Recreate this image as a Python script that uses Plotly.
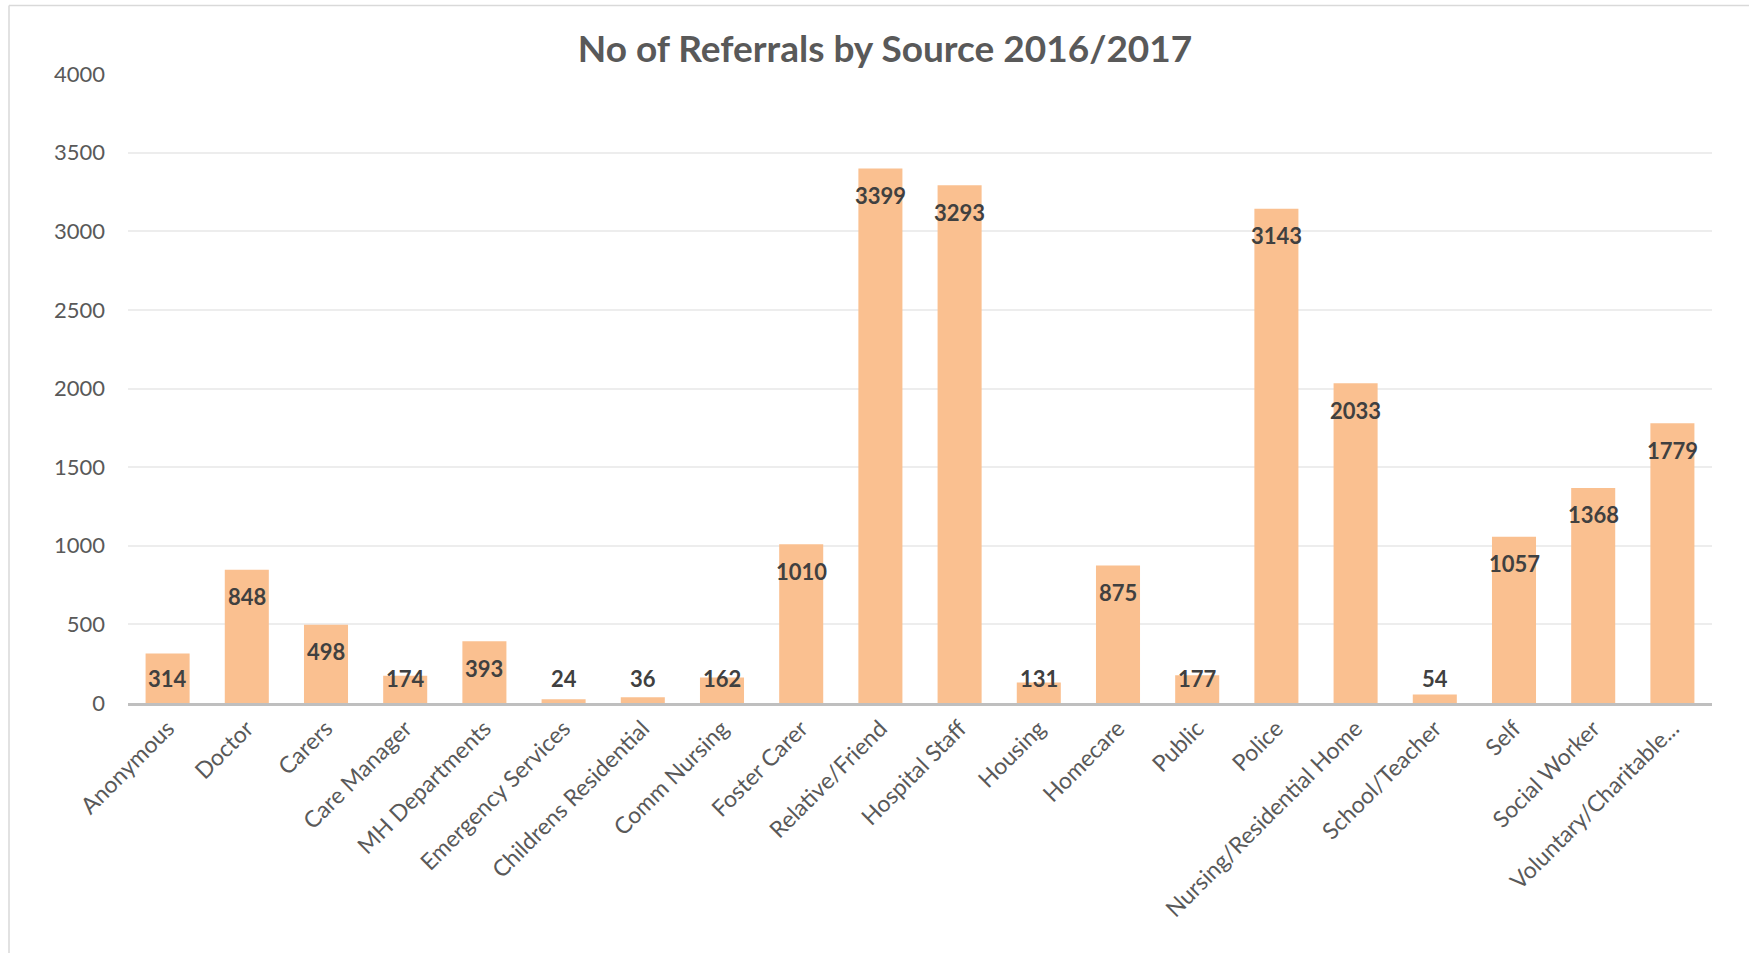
import plotly.graph_objects as go

# Referral sources and counts for 2016/2017
sources = [
    "Anonymous", "Doctor", "Carers", "Care Manager", "MH Departments",
    "Emergency Services", "Childrens Residential", "Comm Nursing", "Foster Carer",
    "Relative/Friend", "Hospital Staff", "Housing", "Homecare", "Public", "Police",
    "Nursing/Residential Home", "School/Teacher", "Self", "Social Worker",
    "Voluntary/Charitable...",
]
referrals = [314, 848, 498, 174, 393, 24, 36, 162, 1010, 3399, 3293, 131, 875,
             177, 3143, 2033, 54, 1057, 1368, 1779]

y_ticks = [0, 500, 1000, 1500, 2000, 2500, 3000, 3500, 4000]
title_text = "No of Referrals by Source 2016/2017"

W, H = 1749, 953
M_L, M_R, M_T, M_B = 128, 37, 74, 250
plot_h = H - M_T - M_B
y_max = 4000
px_per_unit = plot_h / y_max

BAR_COLOR = "#FAC090"
LABEL_COLOR = "#404040"
TEXT_COLOR = "#595959"
FONT = "Lato"

fig = go.Figure(
    go.Bar(
        x=sources,
        y=referrals,
        marker=dict(color=BAR_COLOR, line=dict(width=0)),
        hoverinfo="x+y",
    )
)

# Value labels sit just inside the top of each bar; short bars keep the
# label at a fixed height above the baseline.
inset = 27
floor_px = 25
for src, val in zip(sources, referrals):
    if val * px_per_unit - inset >= floor_px:
        y_pos, shift = val, -inset
    else:
        y_pos, shift = 0, floor_px
    fig.add_annotation(
        x=src, y=y_pos, yshift=shift, text=f"<b>{val}</b>", showarrow=False,
        font=dict(family=FONT, size=22, color=LABEL_COLOR),
        xanchor="center", yanchor="middle",
    )

# Chart frame (left and top edges)
frame_x = (9 - M_L) / (W - M_L - M_R)
frame_y = 1 + (M_T - 5.5) / plot_h
fig.add_shape(type="line", xref="paper", yref="paper",
              x0=frame_x, x1=frame_x, y0=frame_y, y1=-(M_B + 5) / plot_h,
              line=dict(color="#D9D9D9", width=1.5))
fig.add_shape(type="line", xref="paper", yref="paper",
              x0=frame_x, x1=1 + (M_R + 5) / (W - M_L - M_R), y0=frame_y, y1=frame_y,
              line=dict(color="#D9D9D9", width=1.5))

fig.update_layout(
    width=W, height=H,
    margin=dict(l=M_L, r=M_R, t=M_T, b=M_B),
    paper_bgcolor="white", plot_bgcolor="white",
    bargap=0.444,
    showlegend=False,
    title=dict(
        text=f"<b>{title_text}</b>",
        x=(885 - M_L) / (W - M_L - M_R), xref="paper", xanchor="center",
        y=1 - 49 / H, yref="container", yanchor="middle",
        font=dict(family=FONT, size=37, color=TEXT_COLOR),
    ),
    xaxis=dict(
        tickangle=-45,
        tickfont=dict(family=FONT, size=23, color=TEXT_COLOR),
        showline=True, linecolor="#BFBFBF", linewidth=3,
        ticks="", showgrid=False, zeroline=False,
    ),
    yaxis=dict(
        range=[0, y_max],
        tickvals=y_ticks,
        tickfont=dict(family=FONT, size=22, color=TEXT_COLOR),
        showgrid=True, gridcolor="#EDEDED", gridwidth=1.5,
        zeroline=False, showline=False, ticks="",
        ticklabelstandoff=22,
    ),
)

fig.write_html("out.html")
